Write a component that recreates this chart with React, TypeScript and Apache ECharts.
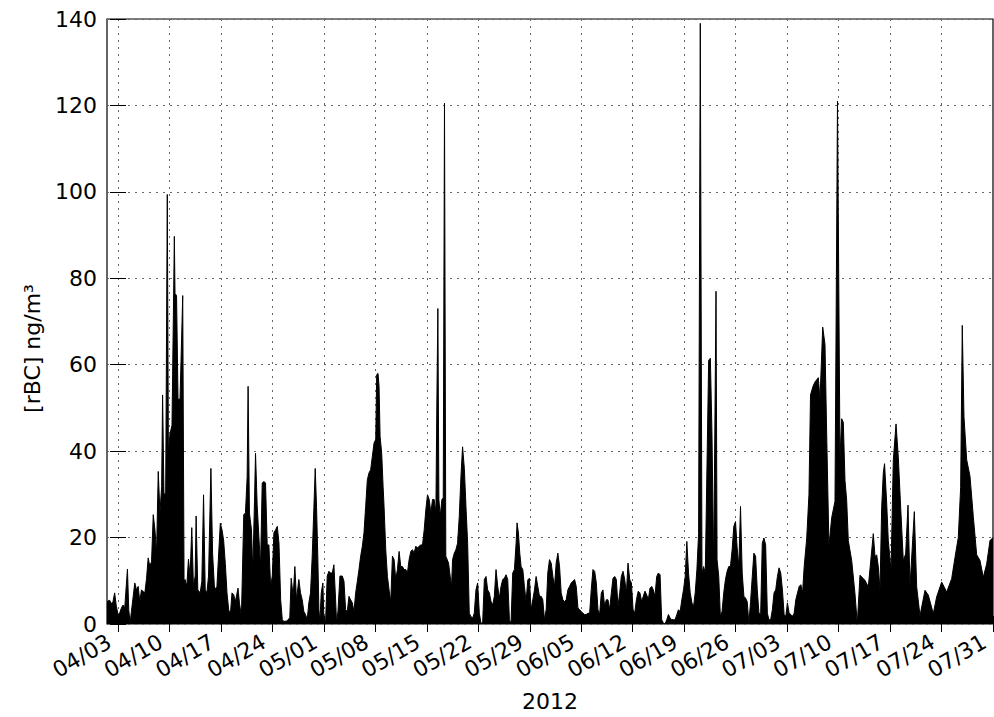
import React, { useEffect, useRef } from "react";
import * as echarts from "echarts";

// [days since 2012-04-03 00:00, rBC ng/m3]
const aprilSamples: [number, number][] = [
  [-1.5, 5.2], [-1.14, 5.5], [-0.91, 4.7], [-0.68, 5.2], [-0.46, 7.2], [-0.23, 4.1], [0, 2.2], [0.23, 2.6],
  [0.46, 3.7], [0.68, 4.4], [0.91, 3.7], [1.28, 12.7], [1.46, 3.3], [1.64, 0.3], [1.82, 2.9], [2.28, 9.5],
  [2.51, 7.9], [2.74, 8.7], [2.96, 5.2], [3.19, 7.9], [3.42, 7.5], [3.65, 7.2], [3.88, 10.6], [4.1, 15.3],
  [4.33, 13.3], [4.56, 14.5], [4.79, 25.3], [5.02, 21.8], [5.24, 16.4], [5.47, 35.3], [5.7, 25.7], [5.93, 31.8],
  [6.06, 53], [6.25, 30], [6.48, 30.3], [6.7, 99.4], [6.85, 40], [7.07, 44], [7.34, 46], [7.66, 89.7],
  [7.75, 76.5], [7.96, 76], [8.16, 52], [8.43, 52], [8.8, 76], [8.98, 10], [9.12, 10.3], [9.35, 8.7],
  [9.58, 15], [9.8, 11.1], [10.03, 22.3], [10.26, 8.7], [10.49, 11.1], [10.62, 25], [10.85, 7.9], [11.17, 7.2],
  [11.4, 9.9], [11.63, 29.9], [11.86, 7.9], [12.08, 7.2], [12.31, 11.1], [12.63, 36], [12.86, 16.3], [13.13, 7.9],
  [13.45, 8.7], [13.91, 23.3], [14.14, 21.8], [14.36, 19.4], [14.59, 14], [14.82, 7.2], [15.05, 3.3], [15.28, 2.2],
  [15.5, 7.2], [15.73, 6.8], [15.96, 5.2], [16.32, 8.3], [16.51, 4.9], [16.78, 1.8], [17.1, 25.3], [17.33, 25.7],
  [17.56, 34], [17.69, 55], [17.87, 25.7], [18.15, 21.8], [18.33, 12.2], [18.56, 28.4], [18.7, 39.5], [18.92, 27.6],
  [19.15, 20.3], [19.38, 13.3], [19.61, 32.6], [19.84, 33], [20.06, 32.6], [20.29, 18.3], [20.52, 18.3], [20.75, 8.7],
  [20.98, 11.1], [21.2, 21.1], [21.43, 21.8], [21.66, 22.6], [21.89, 18.7], [22.12, 5.6], [22.34, 1.0], [22.57, 0.6],
  [23.0, 0.7], [23.36, 1.5], [23.55, 10.6], [23.82, 6.4], [24.05, 13.3], [24.27, 5.6], [24.59, 10.3], [24.82, 7.2],
  [25.05, 5.6], [25.27, 2.9], [25.5, 2.2], [25.73, 1.0], [25.95, 4.9], [26.18, 7.2], [26.41, 15.7], [26.64, 27],
  [26.82, 36], [27.0, 27], [27.18, 14.8], [27.32, 3.3], [27.45, 0.6], [27.64, 7.2], [27.86, 9.5],
];

const maySamples: [number, number][] = [
  [28.0, 1.0], [28.23, 0.6], [28.45, 11.1], [28.68, 12.2], [28.91, 11.8], [29.14, 11.8], [29.36, 13.7], [29.59, 5.6],
  [29.73, 0.2], [29.91, 2.9], [30.18, 11.1], [30.5, 11.1], [30.73, 9.9], [30.95, 3.3], [31.18, 2.9], [31.41, 6.4],
  [31.64, 5.6], [31.86, 4.9], [32.09, 2.9], [32.32, 7.2], [32.55, 9.9], [32.77, 12.6], [33.0, 15.7], [33.23, 18],
  [33.45, 21.1], [33.68, 27.2], [33.91, 33.4], [34.14, 35], [34.36, 35.7], [34.59, 38.8], [34.82, 41.9], [35.05, 42.7],
  [35.18, 57.7], [35.36, 58], [35.5, 55], [35.64, 43.4], [35.86, 39.5], [36.05, 31.8], [36.18, 27.2], [36.41, 17.2],
  [36.64, 11.0], [36.86, 7.9], [37.09, 5.2], [37.32, 15.7], [37.55, 14.9], [37.77, 10.3], [38.0, 12.6], [38.23, 16.8],
  [38.45, 13.3], [38.68, 13.3], [38.91, 12.6], [39.14, 12.6], [39.36, 11.8], [39.59, 14.9], [39.82, 16.8], [40.05, 17.2],
  [40.27, 16.4], [40.5, 18], [40.73, 17.6], [40.95, 18], [41.18, 18.3], [41.41, 18.3], [41.64, 21.8], [41.86, 26.4],
  [42.09, 29.9], [42.32, 28.8], [42.55, 25.7], [42.77, 28.8], [43.0, 28.8], [43.23, 25.7], [43.36, 50.7], [43.5, 73],
  [43.64, 28.8], [43.82, 25], [44.05, 28.8], [44.23, 29.2], [44.4, 120.5], [44.58, 15.7], [44.95, 14.1], [45.18, 11.0],
  [45.36, 8.7], [45.5, 14.9], [45.73, 16.4], [45.95, 17.2], [46.18, 18.7], [46.41, 24.9], [46.64, 34.2], [46.86, 41],
  [47.1, 36], [47.32, 27.2], [47.55, 18.7], [47.77, 2.5], [48.0, 1.7], [48.23, 1.4], [48.45, 2.5], [48.68, 7.9],
  [48.91, 9.5], [49.14, 2.5], [49.36, 0.2], [49.59, 0.2], [49.82, 10.3], [50.05, 11], [50.27, 7.9], [50.5, 7.2],
  [50.73, 5.2], [50.95, 4.4], [51.18, 6.4], [51.41, 12.6], [51.64, 8.7], [51.86, 6.0], [52.09, 8.7], [52.32, 10.3],
  [52.55, 10.6], [52.77, 11.4], [53.0, 10.3], [53.23, 1.0], [53.45, 0.2], [53.68, 11.8], [53.91, 12.6], [54.14, 18.7],
  [54.27, 23.4], [54.45, 21.1], [54.64, 16.4], [54.82, 13.3], [55.05, 12.6], [55.27, 8.7], [55.5, 5.2], [55.73, 10.2],
  [55.95, 10.6], [56.18, 3.3], [56.41, 5.6], [56.64, 7.9], [56.86, 11], [57.09, 8.7], [57.32, 6.4], [57.55, 6.4],
  [57.77, 5.6], [58.0, 1.0], [58.23, 3.3], [58.45, 11.8], [58.68, 14.9], [58.91, 14.1],
];

const juneSamples: [number, number][] = [
  [59.14, 11], [59.36, 8.7], [59.59, 14.1], [59.82, 16.4], [60.05, 13.3], [60.27, 7.2], [60.5, 5.6], [60.73, 5.2],
  [60.95, 5.6], [61.18, 7.9], [61.41, 8.7], [61.64, 9.5], [61.86, 9.9], [62.09, 10.3], [62.32, 8.7], [62.55, 3.7],
  [62.77, 3.3], [63.0, 2.9], [63.23, 2.5], [63.45, 2.2], [63.68, 2.2], [63.91, 2.5], [64.14, 2.5], [64.36, 7.9],
  [64.59, 12.6], [64.82, 12.2], [65.05, 9.5], [65.27, 3.3], [65.5, 2.2], [65.73, 7.2], [65.95, 7.9], [66.18, 4.1],
  [66.41, 5.6], [66.64, 5.6], [66.86, 3.3], [67.09, 7.2], [67.32, 10.6], [67.55, 11], [67.77, 10.3], [68.0, 4.1],
  [68.23, 7.2], [68.45, 11], [68.68, 12.2], [68.91, 10.3], [69.14, 7.2], [69.36, 14.1], [69.59, 10.3], [69.82, 9.5],
  [70.05, 3.3], [70.27, 2.5], [70.5, 5.6], [70.75, 7.6], [70.98, 7.2], [71.21, 5.2], [71.44, 6.4], [71.66, 7.6],
  [71.89, 6.8], [72.12, 5.6], [72.35, 8.3], [72.58, 8.7], [72.8, 7.9], [73.03, 6.4], [73.26, 11], [73.49, 11.8],
  [73.72, 11.4], [73.94, 1.0], [74.17, 0.2], [74.4, 0], [74.63, 1.0], [74.86, 2.2], [75.08, 1.4], [75.31, 1.0],
  [75.54, 1.0], [75.77, 1.0], [76.0, 2.2], [76.22, 3.3], [76.45, 2.9], [76.68, 5.6], [76.91, 7.9], [77.14, 11],
  [77.36, 19.1], [77.59, 11.8], [77.82, 7.2], [78.05, 4.9], [78.28, 4.1], [78.5, 7.2], [78.73, 12.6], [78.96, 21],
  [79.19, 139], [79.42, 11.8], [79.64, 13.3], [79.87, 11.8], [80.1, 36.5], [80.33, 61], [80.56, 61.5], [80.78, 44],
  [81.01, 13.3], [81.33, 77], [81.47, 14.9], [81.7, 11], [81.92, 1.8], [82.15, 2.9], [82.38, 7.2], [82.61, 10.3],
  [82.84, 12.2], [83.06, 13.3], [83.29, 13.3], [83.52, 17.2], [83.75, 22.6], [83.98, 23.7], [84.2, 17.7], [84.43, 13.3],
  [84.66, 27.2], [84.89, 11.8], [85.12, 6.4], [85.34, 6.0], [85.57, 5.2], [85.8, 0.2], [86.03, 5.2], [86.26, 11],
  [86.48, 16.4], [86.71, 15.7], [86.94, 7.9], [87.17, 2.5], [87.4, 2.2], [87.62, 18.7], [87.85, 19.9], [88.08, 18.3],
  [88.31, 2.5], [88.53, 1.0], [88.76, 1.0], [88.99, 3.3],
];

const julySamples: [number, number][] = [
  [89.22, 7.2], [89.45, 7.9], [89.68, 11], [89.9, 13], [90.13, 11.8], [90.36, 7.9], [90.59, 2.2], [90.82, 1.8],
  [91.04, 4.9], [91.27, 2.5], [91.5, 2.2], [91.73, 1.8], [91.96, 2.5], [92.18, 5.6], [92.41, 7.2], [92.64, 8.7],
  [92.87, 9.1], [93.1, 7.2], [93.32, 13.3], [93.66, 19.7], [93.97, 30], [94.18, 53], [94.52, 55], [94.79, 56],
  [95.24, 57], [95.47, 52], [95.84, 68.7], [96.15, 64.7], [96.38, 44], [96.69, 18], [97.06, 24.6], [97.51, 28.4],
  [97.85, 121], [98.19, 38.4], [98.42, 47.5], [98.64, 46.7], [98.87, 33.2], [99.1, 28.6], [99.32, 19.3], [99.78, 14.7],
  [100.23, 7], [100.54, 0], [100.91, 11.3], [101.59, 10.1], [102.04, 8.6], [102.72, 20.9], [102.95, 15.6], [103.18, 16],
  [103.4, 13.3], [103.63, 7.8], [103.86, 27], [104.08, 35], [104.25, 37.1], [104.54, 28], [104.76, 19.3], [105.13, 12.4],
  [105.44, 37.9], [105.81, 46.3], [106.12, 38.6], [106.45, 26.7], [106.8, 14.7], [107.12, 16.2], [107.44, 27.5], [107.71, 8.6],
  [108.3, 26], [108.62, 8.6], [109.07, 1.9], [109.75, 7.8], [110.2, 6.7], [110.88, 2.4], [111.34, 6.3], [112.02, 9.7],
  [112.7, 7.4], [113.38, 10.5], [113.83, 15.4], [114.28, 20], [114.6, 31.6], [114.82, 69.1], [115.05, 48], [115.42, 38],
  [115.87, 34.2], [116.32, 24.9], [116.78, 16], [117.23, 14.7], [117.68, 10.8], [118.14, 13.9], [118.59, 19.3], [119.0, 20],
];

const tickDays = [0, 7, 14, 21, 28, 35, 42, 49, 56, 63, 70, 77, 84, 91, 98, 105, 112, 119];
const yMin = 0;
const yMax = 140;
const yStep = 20;
const xMin = -1.5;
const xMax = 119;
const yearLabel = "2012";
const yLabel = "[rBC] ng/m³";

const BASE = Date.UTC(2012, 3, 3);
function dayLabel(d: number): string {
  const dt = new Date(BASE + Math.round(d) * 86400000);
  const m = String(dt.getUTCMonth() + 1).padStart(2, "0");
  const dd = String(dt.getUTCDate()).padStart(2, "0");
  return `${m}/${dd}`;
}

const FONT = "DejaVu Sans";

export default function App() {
  const ref = useRef<HTMLDivElement>(null);
  useEffect(() => {
    document.body.style.margin = "0";
    const chart = echarts.init(ref.current!, undefined, { renderer: "svg" });
    const data = [...aprilSamples, ...maySamples, ...juneSamples, ...julySamples];
    const gridLine = { show: true, lineStyle: { color: "#666", type: [2, 5] as any, width: 1 } };
    chart.setOption({
      animation: false,
      backgroundColor: "#fff",
      textStyle: { fontFamily: FONT },
      grid: { left: 107, top: 19, right: 1, bottom: 93, show: true, borderColor: "#000", borderWidth: 1.2, backgroundColor: "transparent" },
      xAxis: [
        {
          type: "value",
          min: xMin,
          max: xMax,
          position: "bottom",
          name: yearLabel,
          nameLocation: "middle",
          nameGap: 66,
          nameTextStyle: { fontSize: 22, color: "#000", fontFamily: FONT },
          axisLine: { show: false },
          axisTick: { show: true, inside: true, length: 8, customValues: tickDays, lineStyle: { color: "#000" } },
          axisLabel: {
            show: true,
            customValues: tickDays,
            rotate: 30,
            margin: 11,
            padding: [0, 10, 0, 0],
            fontSize: 22,
            color: "#000",
            fontFamily: FONT,
            formatter: (v: number) => dayLabel(v),
          },
          splitLine: gridLine,
        },
        {
          type: "value",
          min: xMin,
          max: xMax,
          position: "top",
          axisLine: { show: false },
          axisTick: { show: true, inside: true, length: 8, customValues: tickDays, lineStyle: { color: "#000" } },
          axisLabel: { show: false },
          splitLine: { show: false },
        },
      ],
      yAxis: [
        {
          type: "value",
          min: yMin,
          max: yMax,
          interval: yStep,
          position: "left",
          name: yLabel,
          nameLocation: "middle",
          nameRotate: 90,
          nameGap: 64,
          nameTextStyle: { fontSize: 22, color: "#000", fontFamily: FONT, padding: [0, 54, 0, 0] },
          axisLine: { show: false },
          axisTick: { show: true, inside: true, length: 8, lineStyle: { color: "#000" } },
          axisLabel: { fontSize: 22, color: "#000", margin: 10, fontFamily: FONT },
          splitLine: gridLine,
        },
        {
          type: "value",
          min: yMin,
          max: yMax,
          interval: yStep,
          position: "right",
          axisLine: { show: false },
          axisTick: { show: true, inside: true, length: 8, lineStyle: { color: "#000" } },
          axisLabel: { show: false },
          splitLine: { show: false },
        },
      ],
      series: [
        {
          type: "line",
          data,
          xAxisIndex: 0,
          yAxisIndex: 0,
          showSymbol: false,
          symbol: "none",
          lineStyle: { color: "#000", width: 1 },
          areaStyle: { color: "#000", opacity: 1 },
          clip: true,
          z: 3,
        },
      ],
    });
    return () => chart.dispose();
  }, []);
  return <div ref={ref} style={{ position: "fixed", left: 0, top: 0, width: 994, height: 717 }} />;
}
